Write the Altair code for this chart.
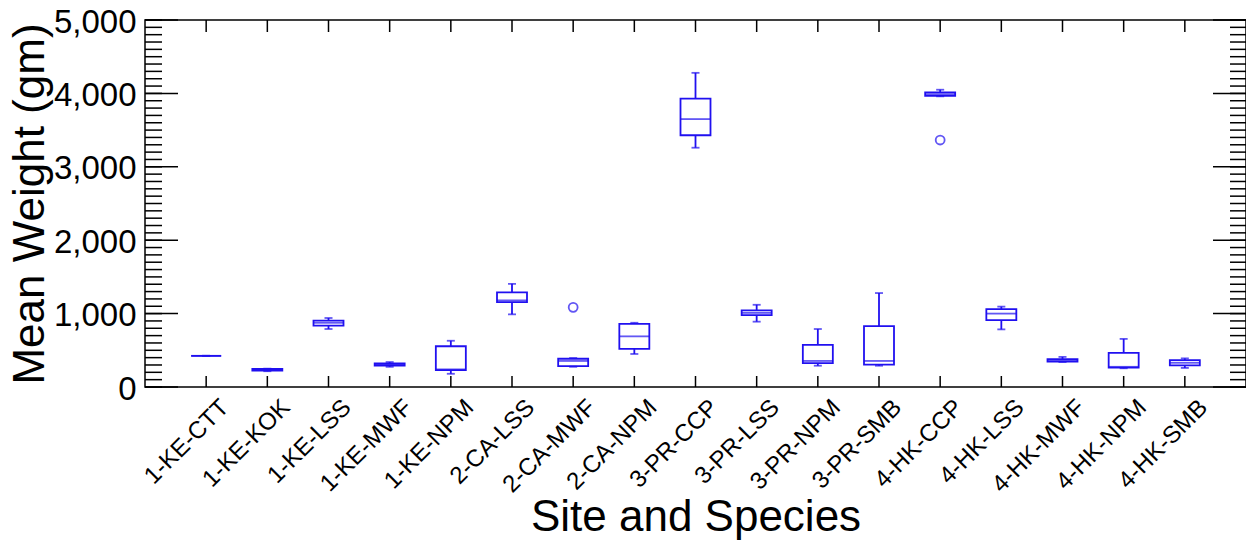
import altair as alt
import pandas as pd

cats = ["1-KE-CTT", "1-KE-KOK", "1-KE-LSS", "1-KE-MWF", "1-KE-NPM", "2-CA-LSS",
        "2-CA-MWF", "2-CA-NPM", "3-PR-CCP", "3-PR-LSS", "3-PR-NPM", "3-PR-SMB",
        "4-HK-CCP", "4-HK-LSS", "4-HK-MWF", "4-HK-NPM", "4-HK-SMB"]
mins = [425, 215, 790, 275, 180, 990, 275, 450, 3260, 890, 290, 290, 3960, 785, 340, 255, 260]
q1s = [425, 225, 835, 290, 230, 1155, 285, 520, 3430, 980, 325, 305, 3965, 910, 345, 265, 295]
meds = [425, 235, 875, 305, 240, 1180, 355, 690, 3650, 1010, 355, 355, 3990, 1000, 360, 275, 330]
q3s = [425, 245, 905, 320, 555, 1290, 385, 860, 3930, 1045, 575, 830, 4015, 1060, 380, 465, 365]
maxs = [425, 250, 940, 340, 630, 1405, 395, 875, 4280, 1120, 790, 1280, 4050, 1095, 410, 655, 390]
out_cats = ["2-CA-MWF", "4-HK-CCP"]
out_vals = [1085, 3365]
major_vals = [0, 1000, 2000, 3000, 4000, 5000]
minor_vals = list(range(0, 5001, 100))

W, H = 1101, 367
BLUE = "#2010f0"
FONT = "Liberation Sans"

stats = pd.DataFrame({"cat": cats, "lo": mins, "q1": q1s, "med": meds, "q3": q3s, "hi": maxs})
outs = pd.DataFrame({"cat": out_cats, "v": out_vals})
cat_df = pd.DataFrame({"cat": cats})
major_df = pd.DataFrame({"v": major_vals})
minor_df = pd.DataFrame({"v": minor_vals})

xscale = alt.Scale(type="point", domain=cats, padding=1)
yscale = alt.Scale(domain=[0, 5000], nice=False, zero=True)

xaxis = alt.Axis(title="Site and Species", labelAngle=-45, labelFontSize=24, labelPadding=8,
                 labelOffset=10, labelAlign="right", labelBaseline="top", ticks=False,
                 domain=False, grid=False, labelColor="black", titleColor="black",
                 labelFont=FONT, titleFont=FONT, titleFontSize=44, titleFontWeight="normal",
                 titleX=W / 2, titleY=143, titleAlign="center", titleBaseline="alphabetic")
yaxis = alt.Axis(title="Mean Weight (gm)", values=major_vals, format=",d", labelFontSize=33,
                 labelPadding=9, ticks=False, domain=False, grid=False, labelColor="black",
                 titleColor="black", labelFont=FONT, titleFont=FONT, titleFontSize=44,
                 titleFontWeight="normal", titleX=-115, titleY=H / 2, titleAngle=-90,
                 titleAlign="center", titleBaseline="middle", labelAlign="right",
                 labelBaseline="middle", labelOffset=2)

def X(field="cat"):
    return alt.X(f"{field}:N", scale=xscale, axis=xaxis)

def Y(field):
    return alt.Y(f"{field}:Q", scale=yscale, axis=yaxis)

SW = 1.8
base = alt.Chart(stats)
wlo = base.mark_rule(color=BLUE, strokeWidth=SW).encode(x=X(), y=Y("lo"), y2="q1:Q")
whi = base.mark_rule(color=BLUE, strokeWidth=SW).encode(x=X(), y=Y("q3"), y2="hi:Q")
box = base.mark_bar(size=30, fillOpacity=0, stroke=BLUE, strokeWidth=SW).encode(
    x=X(), y=Y("q1"), y2="q3:Q")
med = base.mark_tick(size=30, thickness=SW, color=BLUE).encode(x=X(), y=Y("med"))
cap_lo = base.mark_tick(size=8, thickness=SW, color=BLUE).encode(x=X(), y=Y("lo"))
cap_hi = base.mark_tick(size=8, thickness=SW, color=BLUE).encode(x=X(), y=Y("hi"))
pts = alt.Chart(outs).mark_point(shape="circle", size=80, filled=False, color=BLUE,
                                 strokeWidth=SW).encode(x=X(), y=Y("v"))

tk = dict(color="black", strokeWidth=1.5)
lmin = alt.Chart(minor_df).mark_rule(**tk).encode(y=Y("v"), x=alt.value(0), x2=alt.value(17))
rmin = alt.Chart(minor_df).mark_rule(**tk).encode(y=Y("v"), x=alt.value(W - 16), x2=alt.value(W))
lmaj = alt.Chart(major_df).mark_rule(**tk).encode(y=Y("v"), x=alt.value(0), x2=alt.value(33))
rmaj = alt.Chart(major_df).mark_rule(**tk).encode(y=Y("v"), x=alt.value(W - 33), x2=alt.value(W))
ttop = alt.Chart(cat_df).mark_rule(**tk).encode(x=X(), y=alt.value(0), y2=alt.value(12))
tbot = alt.Chart(cat_df).mark_rule(**tk).encode(x=X(), y=alt.value(H - 11), y2=alt.value(H))

chart = alt.layer(lmin, rmin, lmaj, rmaj, ttop, tbot, wlo, whi, box, med, cap_lo, cap_hi, pts).properties(
    width=W, height=H,
    autosize=alt.AutoSizeParams(type="none"),
    padding={"left": 145, "top": 20, "right": 0, "bottom": 167},
    background="white",
).configure_view(stroke="black", strokeWidth=1.5)

chart.save("out.html", embed_options={"renderer": "svg", "actions": False})
